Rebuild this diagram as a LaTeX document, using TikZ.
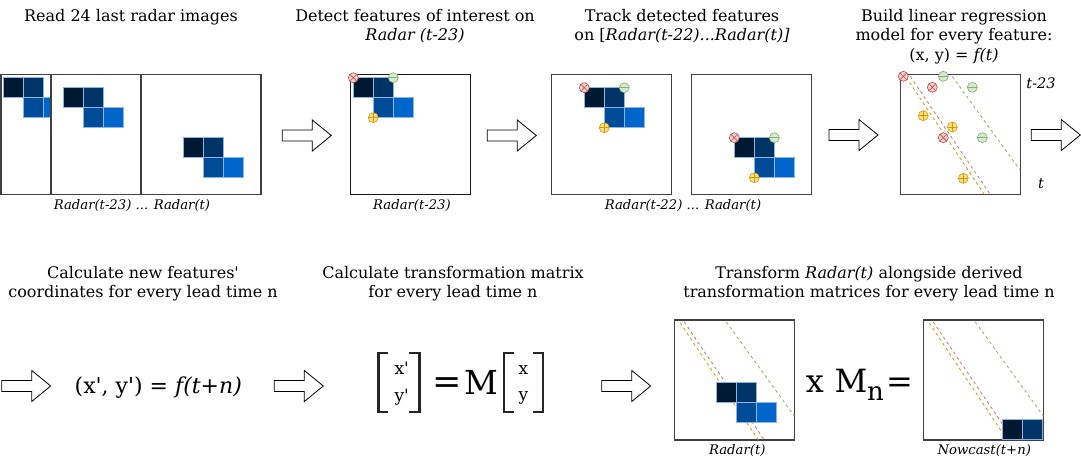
\documentclass[tikz,border=0pt]{standalone}
\usepackage{fontspec}
\setmainfont{DejaVu Serif}
\definecolor{sqa}{HTML}{001933}
\definecolor{sqb}{HTML}{003366}
\definecolor{sqc}{HTML}{004C99}
\definecolor{sqd}{HTML}{0066CC}
\definecolor{sqline}{HTML}{8CB4E8}
\definecolor{redf}{HTML}{F8CECC}
\definecolor{redd}{HTML}{B85450}
\definecolor{grnf}{HTML}{D5E8D4}
\definecolor{grnd}{HTML}{82B366}
\definecolor{orf}{HTML}{FFE08A}
\definecolor{ord}{HTML}{D79B00}
\definecolor{frm}{HTML}{404040}
\makeatletter
\newcommand\strq{{\font\strqfont="DejaVu Serif" at \f@size pt\relax\strqfont'}}
\makeatother
\newcommand\blob[3]{%
  \node[sqbox=sqa] (#3a) at (#1,#2) {};
  \node[sqbox=sqb] (#3b) at (#1+20,#2) {};
  \node[sqbox=sqc] (#3c) at (#1+20,#2+20) {};
  \node[sqbox=sqd] (#3d) at (#1+40,#2+20) {};}
\newcommand\blockarrow[1]{%
  \draw[barrow] (#1) ++(0,-5.5) -- ++(30,0) -- ++(0,-10) -- ++(19,15.5)
    -- ++(-19,15.5) -- ++(0,-10) -- ++(-30,0) -- cycle;}
\begin{document}
\begin{tikzpicture}[x=1pt,y=-1pt,
  frame/.style={draw=frm,line width=1.2,fill=white,minimum size=120,inner sep=0,outer sep=0,anchor=north west},
  sqbox/.style={draw=sqline,line width=0.5,fill=#1,minimum size=20,inner sep=0,outer sep=0,anchor=north west},
  feat/.style={circle,minimum size=10,inner sep=0,line width=0.6},
  fred/.style={feat,draw=redd,fill=redf,path picture={\draw[redd,line width=0.6]
     ([shift={(-3.5,-3.5)}]path picture bounding box.center) -- ([shift={(3.5,3.5)}]path picture bounding box.center)
     ([shift={(-3.5,3.5)}]path picture bounding box.center) -- ([shift={(3.5,-3.5)}]path picture bounding box.center);}},
  fgrn/.style={feat,draw=grnd,fill=grnf,path picture={\draw[grnd,line width=0.6]
     ([shift={(-5,0)}]path picture bounding box.center) -- ([shift={(5,0)}]path picture bounding box.center);}},
  forg/.style={feat,draw=ord,fill=orf,path picture={\draw[ord,line width=0.6]
     ([shift={(-5,0)}]path picture bounding box.center) -- ([shift={(5,0)}]path picture bounding box.center)
     ([shift={(0,-5)}]path picture bounding box.center) -- ([shift={(0,5)}]path picture bounding box.center);}},
  dl/.style={dash pattern=on 3pt off 3pt,line width=0.8},
  head/.style={font=\fontsize{16}{19}\selectfont,anchor=base,inner sep=0},
  lab/.style={font=\fontsize{13.2}{15}\selectfont\itshape,anchor=base,inner sep=0},
  vec/.style={font=\fontsize{17}{20}\selectfont,anchor=base,inner sep=0},
  big/.style={font=\fontsize{32}{38}\selectfont,anchor=base,inner sep=0},
  barrow/.style={draw=black,fill=white,line width=0.8,line join=miter},
  brk/.style={line width=2.4,draw=black!85}
]
\useasboundingbox (0,0) rectangle (1081,461);

% ---------- headings, top row
\node[head] (h1) at (131,21.5) {Read 24 last radar images};
\node[head] (h2a) at (415,21.5) {Detect features of interest on};
\node[head] (h2b) at (415,40.5) {\textit{Radar (t-23)}};
\node[head] (h3a) at (682,21.5) {Track detected features};
\node[head] (h3b) at (682,40.5) {on [\textit{Radar(t-22)...Radar(t)]}};
\node[head] (h4a) at (954,21.5) {Build linear regression};
\node[head] (h4b) at (954,40.5) {model for every feature:};
\node[head] (h4c) at (954,60) {(x, y) = \textit{f(t)}};

% ---------- step 1: 24 radar images
\node[frame] (f1) at (1,74.5) {};
\blob{3.3}{77.7}{p}
\node[frame] (f2) at (51,74.5) {};
\blob{63.3}{87.7}{q}
\node[frame] (f3) at (141,74.5) {};
\blob{183.3}{137.7}{r}
\node[lab] (l1) at (132,209.5) {Radar(t-23) ... Radar(t)};

\coordinate (a1) at (282.3,135.5);
\blockarrow{a1}

% ---------- step 2: detect
\node[frame,draw=black!90] (fd) at (350.7,74.5) {};
\blob{353.3}{77.7}{s}
\node[fred] (d1) at (353.3,77.7) {};
\node[fgrn] (d2) at (393.3,77.7) {};
\node[forg] (d3) at (373.3,117.7) {};
\node[lab] (l2) at (412,209.5) {Radar(t-23)};

\coordinate (a2) at (487.3,135.5);
\blockarrow{a2}

% ---------- step 3: track
\node[frame] (ft1) at (551.7,74.5) {};
\blob{584.3}{87.7}{t}
\node[fred] (t1) at (584.3,87.7) {};
\node[fgrn] (t2) at (624.3,87.7) {};
\node[forg] (t3) at (604.3,127.7) {};
\node[frame] (ft2) at (691.7,74.5) {};
\blob{734.3}{137.7}{u}
\node[fred] (u1) at (734.3,137.7) {};
\node[fgrn] (u2) at (774.3,137.7) {};
\node[forg] (u3) at (754.3,177.7) {};
\node[lab] (l3) at (683,209.5) {Radar(t-22) ... Radar(t)};

\coordinate (a3) at (829,135);
\blockarrow{a3}

% ---------- step 4: regression
\node[frame] (fb) at (900.3,74.5) {};
\draw[dl,ord] (906.3,77.5) -- (984.3,194.5);
\draw[dl,redd!80] (910.3,76.5) -- (990.3,194.5);
\draw[dl,grnd] (952.3,76.5) -- (1020.3,170.5);
\node[fred] (m1) at (903.3,76.3) {};
\node[fgrn] (m2) at (943.3,76.3) {};
\node[fred] (m3) at (932.3,87.3) {};
\node[fgrn] (m4) at (972.3,87.3) {};
\node[forg] (m5) at (923.3,115.7) {};
\node[forg] (m6) at (952.3,127) {};
\node[fred] (m7) at (943.3,137.7) {};
\node[fgrn] (m8) at (982.3,137.7) {};
\node[forg] (m9) at (963.3,178.3) {};
\node[font=\fontsize{14.5}{17}\selectfont\itshape,anchor=base,inner sep=0] (tt1) at (1041,88.5) {t-23};
\node[font=\fontsize{14.5}{17}\selectfont\itshape,anchor=base,inner sep=0] (tt2) at (1041,188.3) {t};

\coordinate (a4) at (1031.3,135);
\blockarrow{a4}

% ---------- bottom row headings
\node[head] (h5a) at (143,278) {Calculate new features\strq};
\node[head] (h5b) at (143,297) {coordinates for every lead time n};
\node[head] (h6a) at (453,278) {Calculate transformation matrix};
\node[head] (h6b) at (453,297) {for every lead time n};
\node[head] (h7a) at (869,278) {Transform \textit{Radar(t)} alongside derived};
\node[head] (h7b) at (869,297) {transformation matrices for every lead time n};

% ---------- step 5
\coordinate (a5) at (1.7,386);
\blockarrow{a5}
\node[font=\fontsize{22}{26}\selectfont,anchor=base,inner sep=0] (eq1) at (158.3,393)
  {(x\strq, y\strq) = \textit{f(t+n)}};

\coordinate (a6) at (274.3,386);
\blockarrow{a6}

% ---------- step 6: matrix
\draw[brk] (388.3,352.7) -- (378.3,352.7) -- (378.3,411.7) -- (388.3,411.7);
\draw[brk] (409.3,352.7) -- (419.3,352.7) -- (419.3,411.7) -- (409.3,411.7);
\node[vec] (vx1) at (401.7,374.5) {x\strq};
\node[vec] (vy1) at (401.7,401) {y\strq};
\node[font=\fontsize{35}{42}\selectfont,anchor=base,inner sep=0] (eqs) at (447.5,393) {=};
\node[font=\fontsize{33}{40}\selectfont,anchor=base,inner sep=0] (mm) at (481,394) {M};
\draw[brk] (514,352.7) -- (504,352.7) -- (504,411.7) -- (514,411.7);
\draw[brk] (533.3,352.7) -- (542.7,352.7) -- (542.7,411.7) -- (533.3,411.7);
\node[vec] (vx2) at (523.3,374) {x};
\node[vec] (vy2) at (523.3,400.5) {y};

\coordinate (a7) at (601.7,386);
\blockarrow{a7}

% ---------- step 7: transform
\node[frame] (fr) at (674.3,320) {};
\draw[dl,ord] (680.3,323) -- (758.3,440);
\draw[dl,redd!80] (684.3,322) -- (764.3,440);
\draw[dl,grnd] (726.3,322) -- (794.3,416);
\blob{716}{382.7}{v}
\node[lab] (l4) at (737.3,454) {Radar(t)};

\node[big] (ox) at (815,392.7) {x};
\node[big] (oM) at (851,392.7) {M};
\node[font=\fontsize{26}{30}\selectfont,anchor=base,inner sep=0] (on) at (875.5,400) {n};
\node[big] (oe) at (899.5,392.7) {=};

\node[frame] (fn) at (923.3,320) {};
\draw[dl,ord] (929.3,323) -- (1007.3,440);
\draw[dl,redd!80] (933.3,322) -- (1013.3,440);
\draw[dl,grnd] (975.3,322) -- (1043.3,416);
\node[sqbox=sqa] (w1) at (1002.7,419.3) {};
\node[sqbox=sqb] (w2) at (1022.7,419.3) {};
\node[lab] (l5) at (984.3,454) {Nowcast(t+n)};
\end{tikzpicture}
\end{document}
